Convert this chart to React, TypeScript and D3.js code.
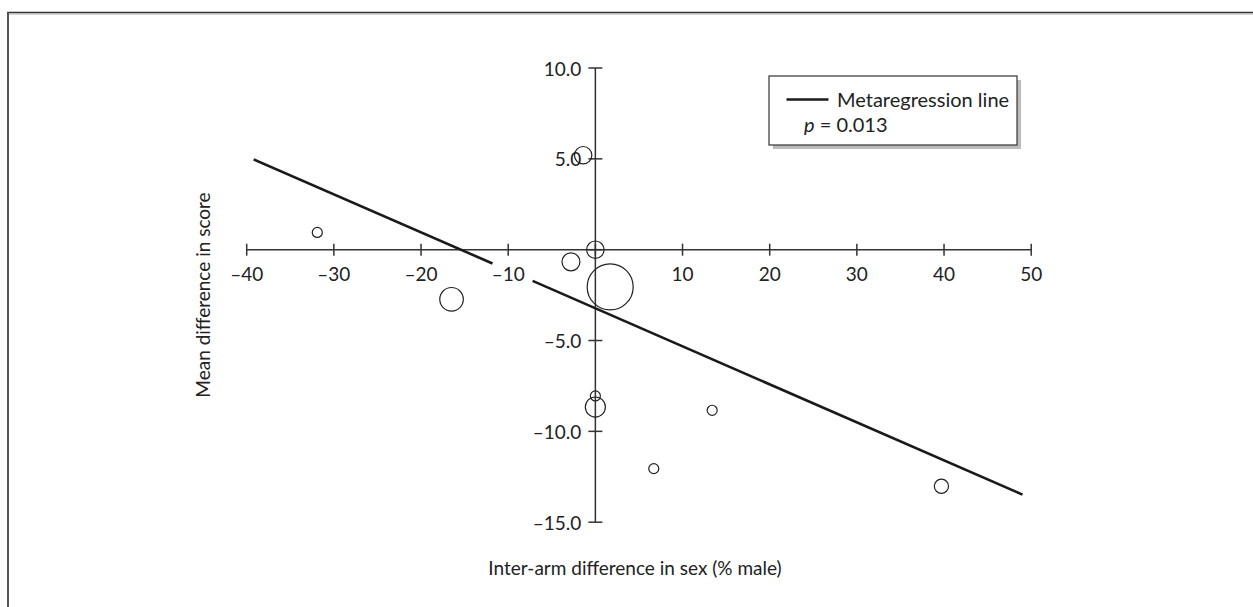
import React from "react";
import * as d3 from "d3";

const W = 1253;
const H = 607;

// Data: bubble studies (x = inter-arm difference in % male, y = mean difference in score, w = relative weight)
const studyX = [-31.9, -16.5, -2.8, 0, 1.7, -1.4, 0, 0, 6.7, 13.4, 39.7];
const studyY = [0.95, -2.73, -0.67, 0, -2.05, 5.2, -8.05, -8.66, -12.05, -8.84, -13.02];
const studyW = [1, 5.5, 3.2, 3, 21, 3, 1, 4, 1, 1, 2];

// Metaregression line segments (broken around the "-10" label)
const lineSeg1X = [-39.2, -11.8];
const lineSeg1Y = [4.97, -0.76];
const lineSeg2X = [-7.2, 49];
const lineSeg2Y = [-1.72, -13.48];

const xTicks = [-40, -30, -20, -10, 0, 10, 20, 30, 40, 50];
const yTicks = [10, 5, 0, -5, -10, -15];

const FONT = "Lato, 'Open Sans', sans-serif";
const INK = "#222";
const FS = 19;

export default function App() {
  const x = d3.scaleLinear().domain([-40, 50]).range([246.7, 1031.2]);
  const y = d3.scaleLinear().domain([-15, 10]).range([522.2, 68]);
  const r = d3.scaleSqrt().domain([0, 21]).range([0, 23]);
  const line = d3
    .line<[number, number]>()
    .x((d) => x(d[0]))
    .y((d) => y(d[1]));
  const seg1: [number, number][] = lineSeg1X.map((v, i) => [v, lineSeg1Y[i]]);
  const seg2: [number, number][] = lineSeg2X.map((v, i) => [v, lineSeg2Y[i]]);
  const x0 = x(0);
  const y0 = y(0);
  const fmtY = (v: number) => (v < 0 ? "\u2013" + Math.abs(v).toFixed(1) : v === 0 ? "" : v.toFixed(1));
  const fmtX = (v: number) => (v < 0 ? "\u2013" + Math.abs(v) : v === 0 ? "" : String(v));

  return (
    <div style={{ position: "fixed", left: 0, top: 0, width: W, height: H, background: "#fff" }}>
      <svg width={W} height={H} style={{ display: "block" }}>
        <rect x={0} y={0} width={W} height={H} fill="#fff" />
        {/* frame */}
        <line x1={7} x2={W} y1={12.5} y2={12.5} stroke="#333" strokeWidth={1.6} />
        <line x1={8} x2={W} y1={14} y2={14} stroke="#aaa" strokeWidth={1} />
        <line x1={8} x2={8} y1={12} y2={H} stroke="#555" strokeWidth={2} />

        {/* x axis */}
        <line x1={x(-40)} x2={x(50)} y1={y0} y2={y0} stroke="#333" strokeWidth={1.5} />
        {xTicks.map((t) => (
          <g key={"xt" + t}>
            <line x1={x(t)} x2={x(t)} y1={y0 - 6} y2={y0 + 6} stroke="#333" strokeWidth={1.5} />
            {t !== 0 && (
              <text x={x(t)} y={y0 + 31} textAnchor="middle" fontFamily={FONT} fontSize={FS} fill={INK}>
                {fmtX(t)}
              </text>
            )}
          </g>
        ))}
        {/* y axis */}
        <line x1={x0} x2={x0} y1={y(10)} y2={y(-15)} stroke="#333" strokeWidth={1.5} />
        {yTicks.map((t) => (
          <g key={"yt" + t}>
            <line x1={x0 - 7} x2={x0 + 7} y1={y(t)} y2={y(t)} stroke="#333" strokeWidth={1.5} />
            {t !== 0 && (
              <text x={x0 - 14} y={y(t) + 7.5} textAnchor="end" fontFamily={FONT} fontSize={FS} fill={INK}>
                {fmtY(t)}
              </text>
            )}
          </g>
        ))}

        {/* regression line */}
        <path d={line(seg1) || ""} fill="none" stroke="#1a1a1a" strokeWidth={2.6} />
        <path d={line(seg2) || ""} fill="none" stroke="#1a1a1a" strokeWidth={2.6} />

        {/* bubbles */}
        {studyX.map((v, i) => (
          <circle
            key={"c" + i}
            cx={x(v)}
            cy={y(studyY[i])}
            r={Math.max(5, r(studyW[i]))}
            fill="none"
            stroke="#222"
            strokeWidth={1.2}
          />
        ))}

        {/* axis titles */}
        <text x={635} y={575} textAnchor="middle" fontFamily={FONT} fontSize={FS} fill={INK}>
          Inter-arm difference in sex (% male)
        </text>
        <text
          transform={`translate(210,295) rotate(-90)`}
          textAnchor="middle"
          fontFamily={FONT}
          fontSize={FS}
          fill={INK}
        >
          Mean difference in score
        </text>

        {/* legend */}
        <rect x={773} y={80} width={248} height={69} fill="#bbb" />
        <rect x={769} y={76} width={248} height={69} fill="#fff" stroke="#333" strokeWidth={1.2} />
        <line x1={786.5} x2={828.5} y1={99.5} y2={99.5} stroke="#1a1a1a" strokeWidth={2.6} />
        <text x={837} y={106.5} fontFamily={FONT} fontSize={20} fill={INK}>
          Metaregression line
        </text>
        <text x={804} y={131.5} fontFamily={FONT} fontSize={20} fill={INK}>
          <tspan fontStyle="italic">p</tspan>
          <tspan> = 0.013</tspan>
        </text>
      </svg>
    </div>
  );
}
